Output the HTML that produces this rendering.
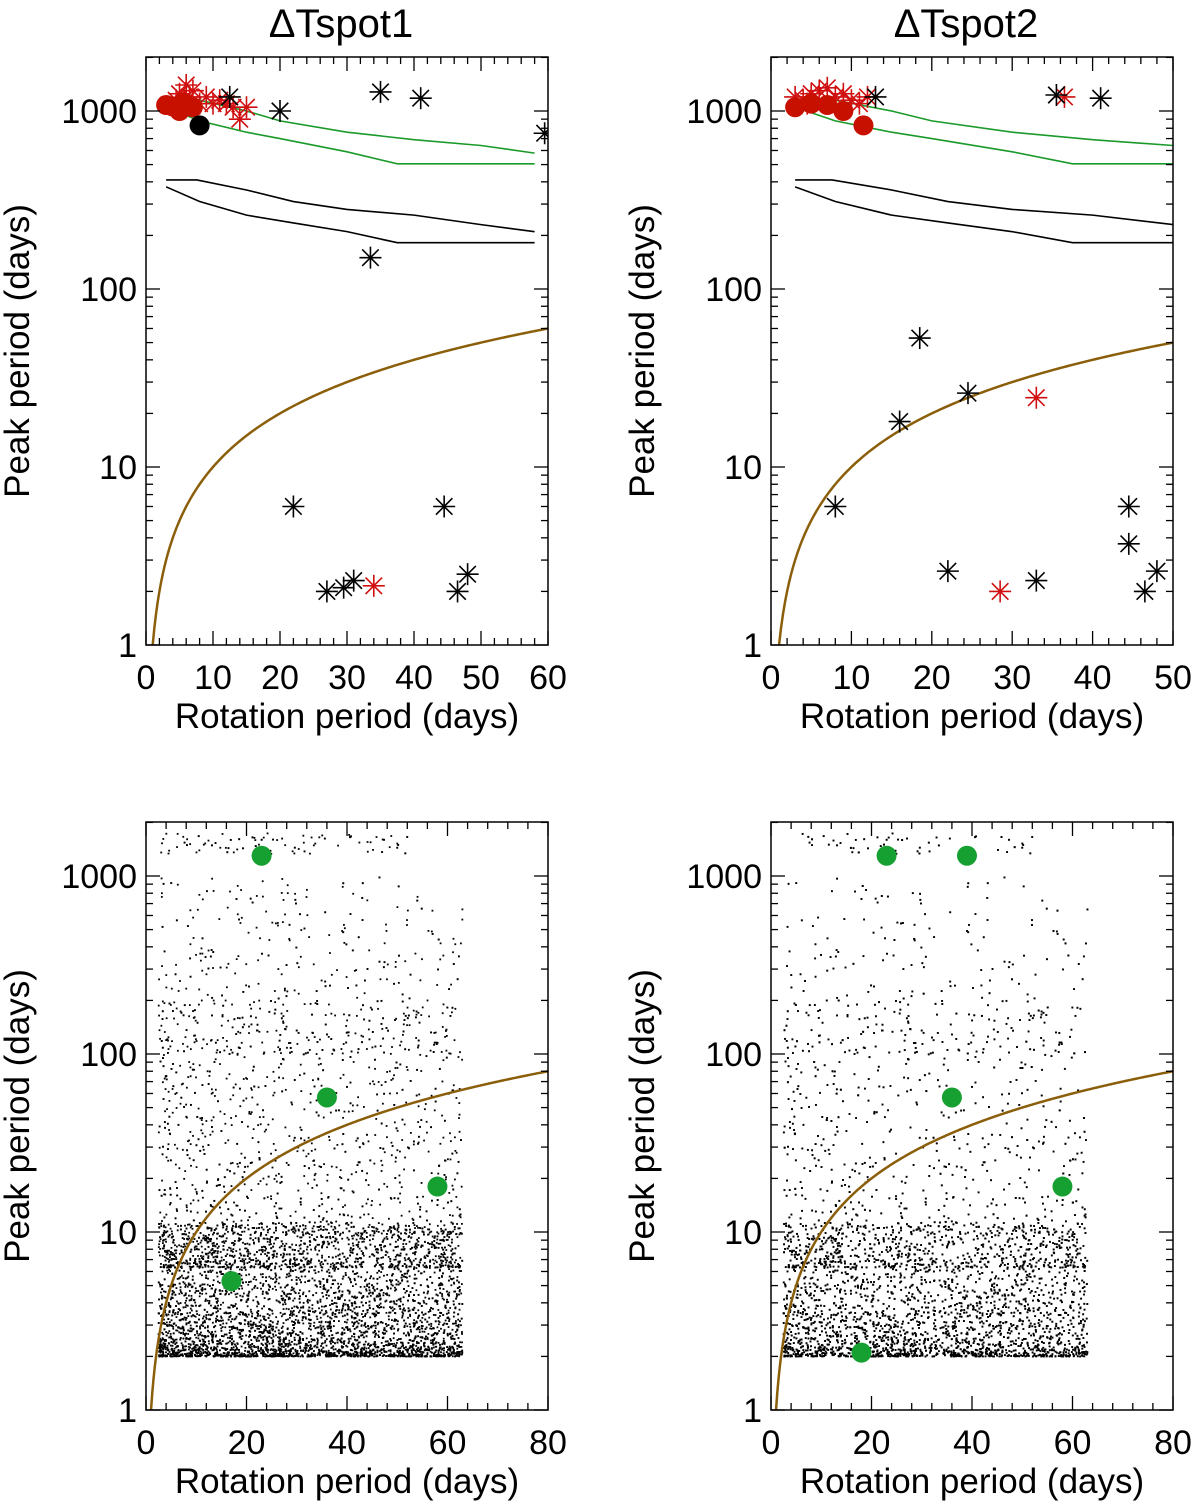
<!DOCTYPE html>
<html><head><meta charset="utf-8">
<style>
html,body{margin:0;padding:0;background:#fff;}
svg text{font-family:"Liberation Sans",sans-serif;fill:#000;}
</style></head>
<body>
<svg id="c" width="1200" height="1506" xmlns="http://www.w3.org/2000/svg"></svg>
<script>
// ---- data ----
const greenUpper = [[3,1150],[8,1150],[15,1000],[20,880],[30,760],[40,690],[50,640],[58,580]];
const greenLower = [[3,1050],[8,880],[15,760],[20,700],[30,590],[37.5,505],[58,505]];
const blackUpper = [[3,410],[7.6,410],[15,360],[22,310],[30,280],[40,260],[50,230],[58,210]];
const blackLower = [[3,375],[8,310],[15,260],[22,235],[30,210],[37.5,182],[58,182]];
const tl_blackStars = [[12.5,1200],[20,1000],[35,1280],[41,1180],[59.5,750],[33.5,150],[22,6],[44.5,6],[27,2],[29.5,2.1],[31,2.3],[48,2.5],[46.5,2]];
const tl_redStars = [[34,2.15],[5,1250],[6,1400],[7,1300],[8,1100],[9,1200],[10,1100],[11,1150],[12,1100],[13,1050],[14,900],[15,1050],[6.5,1200],[4.5,1150]];
const tl_redCircles = [[3,1080],[4,1060],[5,1000],[6,1080],[7,1050],[5.5,1120]];
const tl_blackCircles = [[8,830]];
const tr_blackStars = [[13,1200],[35.5,1230],[41,1180],[18.5,53],[16,18],[24.5,26],[8,6],[22,2.6],[33,2.3],[44.5,6],[44.5,3.7],[46.5,2],[48,2.6]];
const tr_redStars = [[36.5,1200],[33,24.5],[28.5,2],[3,1200],[4,1150],[5,1250],[6,1300],[7,1350],[8,1200],[9,1250],[10,1150],[11,1100],[12,1200],[4.5,1100]];
const tr_redCircles = [[3,1050],[5,1100],[7,1080],[9,1000],[11.5,830]];
const bl_green = [[23,1300],[36,57],[58,18],[17,5.3]];
const br_green = [[23,1300],[39,1300],[36,57],[58,18],[18,2.1]];
const xTicksTop1 = [0,10,20,30,40,50,60];
const xTicksTop2 = [0,10,20,30,40,50];
const xTicksBot = [0,20,40,60,80];
const yTicks = [1,10,100,1000];

const svg = document.getElementById('c');
const NS = 'http://www.w3.org/2000/svg';
function mk(tag, attrs, parent){const e=document.createElementNS(NS,tag);for(const k in attrs)e.setAttribute(k,attrs[k]);(parent||svg).appendChild(e);return e;}

function panel(name, x0, x1, y0, y1, xmax, xTicks, xMinor, title){
  const g = mk('g',{});
  
  
  const ymax = Math.pow(10, (y1-y0)/178 );
  const sx = v => x0 + (v/xmax)*(x1-x0);
  const sy = v => y1 - Math.log10(v)*178;
  const clipId = name+'-clip';
  const cp = mk('clipPath',{id:clipId},g); mk('rect',{x:x0,y:y0,width:x1-x0,height:y1-y0},cp);
  const plot = mk('g',{'clip-path':'url(#'+clipId+')'},g);
  const fr = mk('rect',{x:x0,y:y0,width:x1-x0,height:y1-y0,fill:'none',stroke:'#000','stroke-width':1.5},g);
  
  
  for(let v=0; v<=xmax+1e-9; v+=xMinor){
    const major = xTicks.includes(Math.round(v*1000)/1000);
    const L = major?14:7;
    mk('line',{x1:sx(v),x2:sx(v),y1:y1,y2:y1-L,stroke:'#000','stroke-width':1.3},g);
    mk('line',{x1:sx(v),x2:sx(v),y1:y0,y2:y0+L,stroke:'#000','stroke-width':1.3},g);
  }
  xTicks.forEach(v=>{
    const t = mk('text',{x:sx(v),y:y1+44,'font-size':34,'text-anchor':'middle'},g); t.textContent=v;
    
    
  });
  for(let d=0; d<4; d++){
    for(let m=1;m<=9;m++){
      const v = m*Math.pow(10,d); if(v>ymax) break;
      const L = m===1?14:7;
      mk('line',{x1:x0,x2:x0+L,y1:sy(v),y2:sy(v),stroke:'#000','stroke-width':1.3},g);
      mk('line',{x1:x1,x2:x1-L,y1:sy(v),y2:sy(v),stroke:'#000','stroke-width':1.3},g);
    }
  }
  yTicks.forEach(v=>{
    const t = mk('text',{x:x0-9,y:sy(v)+12,'font-size':34,'text-anchor':'end'},g); t.textContent=v;
    
    
  });
  const xt = mk('text',{x:(x0+x1)/2,y:y1+83,'font-size':35,'text-anchor':'middle'},g);
  xt.textContent='Rotation period (days)';
  
  
  const yt = mk('text',{x:0,y:0,'font-size':35,'text-anchor':'middle',transform:`translate(${x0-117},${(y0+y1)/2}) rotate(-90)`},g);
  yt.textContent='Peak period (days)';
  
  
  if(title){
    const tt = mk('text',{x:(x0+x1)/2-6,y:37,'font-size':40,'text-anchor':'middle'},g);
    tt.textContent=title;
    
    
  }
  return {g, plot, sx, sy};
}
function poly(p, pts, color, name){
  const l = mk('polyline',{points:pts.map(q=>p.sx(q[0])+','+p.sy(q[1])).join(' '),fill:'none',stroke:color,'stroke-width':1.6},p.plot);
  
  
}
function yEqX(p, xmax){
  const pts=[]; for(let v=0.75; v<=xmax; v+=0.25) pts.push([v,v]);
  const l = mk('polyline',{points:pts.map(q=>p.sx(q[0])+','+p.sy(q[1])).join(' '),fill:'none',stroke:'#8b5e0a','stroke-width':2.5},p.plot);
  
  
}
function star(p, pts, color, name){
  pts.forEach(q=>{
    const cx=p.sx(q[0]), cy=p.sy(q[1]), r=11;
    const s = mk('g',{stroke:color,'stroke-width':1.6},p.plot);
    
    
    mk('line',{x1:cx-r,x2:cx+r,y1:cy,y2:cy},s);
    mk('line',{x1:cx,x2:cx,y1:cy-r,y2:cy+r},s);
    mk('line',{x1:cx-r*0.75,x2:cx+r*0.75,y1:cy-r*0.75,y2:cy+r*0.75},s);
    mk('line',{x1:cx-r*0.75,x2:cx+r*0.75,y1:cy+r*0.75,y2:cy-r*0.75},s);
  });
}
function circ(p, pts, color, r, name){
  pts.forEach(q=>{
    const c = mk('circle',{cx:p.sx(q[0]),cy:p.sy(q[1]),r:r,fill:color},p.plot);
    
    
  });
}
// simulated background population cloud (deterministic seed)
let seed = 12345;
function rnd(){seed=(seed*1103515245+12345)%2147483648;return seed/2147483648;}
function cloud(p, n){
  const g = mk('g',{fill:'#000'},p.plot);
  
  
  const l2 = Math.log10(2);
  for(let i=0;i<n;i++){
    const x = 2.5 + 60.5*Math.pow(rnd(),1.1);
    let ly;
    const u = rnd();
    if(u<0.68) ly = l2 + Math.pow(rnd(),1.9)*0.75;
    else if(u<0.92) ly = l2 + 0.5 + Math.pow(rnd(),1.8)*1.5;
    else if(u<0.985) ly = 2 + Math.pow(rnd(),1.3)*1.0;
    else ly = 3.12 + rnd()*0.12;
    let xx = x;
    if(ly>2.9) xx = 3 + 50*Math.pow(rnd(),1.3);
    const cx = p.sx(xx), cy = p.sy(Math.pow(10,ly));
    mk('rect',{x:cx-0.9,y:cy-0.9,width:1.8,height:1.8},g);
  }
}

const p1 = panel('panel-dtspot1-top',146,548,57,645,60,xTicksTop1,2,'ΔTspot1');
poly(p1,greenUpper,'#1a9a2a','green-upper-line');
poly(p1,greenLower,'#1a9a2a','green-lower-line');
poly(p1,blackUpper,'#000','black-upper-line');
poly(p1,blackLower,'#000','black-lower-line');
yEqX(p1,60);
star(p1,tl_redStars,'#d01010','red-star');
circ(p1,tl_redCircles,'#c81000',10,'red-circle');
circ(p1,tl_blackCircles,'#000',10,'black-circle');
star(p1,tl_blackStars,'#000','black-star');

const p2 = panel('panel-dtspot2-top',771,1173,57,645,50,xTicksTop2,2,'ΔTspot2');
poly(p2,greenUpper,'#1a9a2a','green-upper-line');
poly(p2,greenLower,'#1a9a2a','green-lower-line');
poly(p2,blackUpper,'#000','black-upper-line');
poly(p2,blackLower,'#000','black-lower-line');
yEqX(p2,50);
star(p2,tr_redStars,'#d01010','red-star');
circ(p2,tr_redCircles,'#c81000',10,'red-circle');
star(p2,tr_blackStars,'#000','black-star');

const p3 = panel('panel-dtspot1-bottom',146,548,822,1410,80,xTicksBot,4,null);
cloud(p3,7500);
yEqX(p3,80);
circ(p3,bl_green,'#17a032',10,'green-circle');

const p4 = panel('panel-dtspot2-bottom',771,1173,822,1410,80,xTicksBot,4,null);
cloud(p4,7500);
yEqX(p4,80);
circ(p4,br_green,'#17a032',10,'green-circle');
</script>
</body></html>
